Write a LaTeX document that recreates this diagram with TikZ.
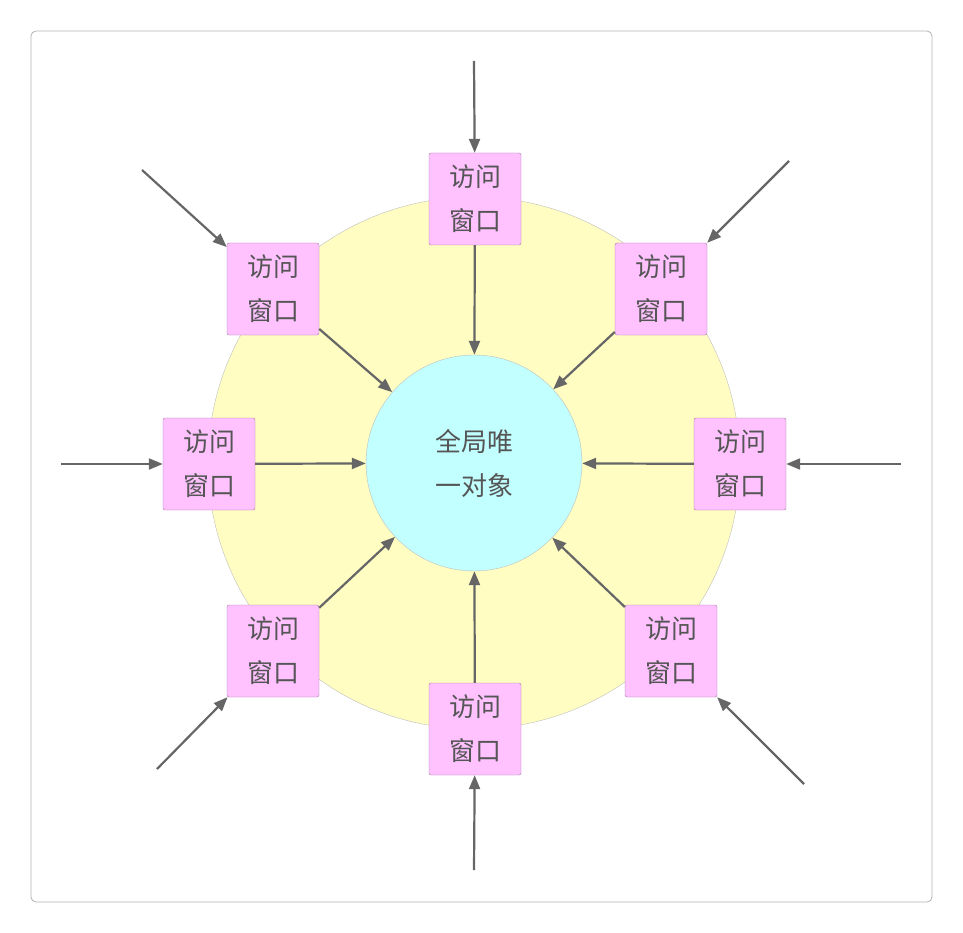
\documentclass[tikz,border=0pt]{standalone}
\usepackage{fontspec}
\setmainfont{Noto Sans CJK SC}
\usetikzlibrary{arrows.meta}
\definecolor{ar}{HTML}{666666}
\definecolor{tx}{HTML}{555555}
\definecolor{bx}{HTML}{FFC2FF}
\definecolor{bxd}{HTML}{A07AA0}
\definecolor{yl}{HTML}{FFFDC2}
\definecolor{cy}{HTML}{C2FFFF}
\tikzset{
 win/.style={draw=bxd,fill=bx,minimum width=92pt,minimum height=92pt,rounded corners=2pt,inner sep=0pt,align=center,text=tx,font=\fontsize{26}{44}\selectfont},
 arr/.style={draw=ar,line width=2.2pt,-{Triangle[length=14pt,width=11pt]}}
}
\begin{document}
\begin{tikzpicture}[x=1pt,y=-1pt]
\useasboundingbox (0,0) rectangle (963,933);
\draw[draw=black!30,rounded corners=5pt,line width=0.8pt] (31,31) rectangle (932,902);
\node[circle,draw=black!25,fill=yl,minimum size=532pt,inner sep=0pt] (big) at (474,463) {};
\node[circle,draw=black!25,fill=cy,minimum size=216pt,inner sep=0pt,text=tx,align=center,font=\fontsize{26}{44}\selectfont] (c) at (474,463) {全局唯\\一对象};
\foreach \n/\x/\y/\sx/\sy in {t/475/199/474/61, ul/273/289/142/170, ur/661/289/789/161, l/209/464/61/464, r/740/464/901/464, ll/273/651/157/769, lr/671/651/804/784, b/475/729/474/870}{
  \node[win] (\n) at (\x,\y) {访问\\窗口};
  \coordinate (s\n) at (\sx,\sy);
  \draw[arr] (s\n) -- (\n);
  \draw[arr] (\n) -- (c);
}
\end{tikzpicture}
\end{document}
